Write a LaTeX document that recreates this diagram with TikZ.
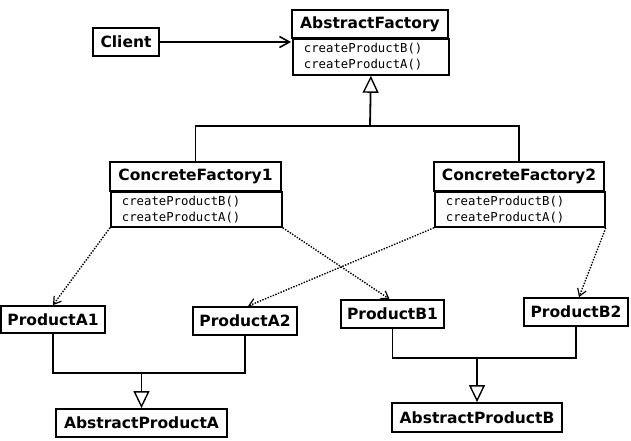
\documentclass[tikz,border=0pt]{standalone}
\usepackage{fontspec}
\setmainfont{DejaVu Sans}
\newfontfamily\monof{DejaVu Sans Mono}
\usetikzlibrary{arrows.meta}
\begin{document}
\begin{tikzpicture}[x=1pt,y=-1pt,
  box/.style={draw, line width=1.8pt, inner sep=0pt, fill=white},
  titlebox/.style={box, font=\bfseries\fontsize{15.5}{18}\selectfont},
  methbox/.style={box, anchor=north west, align=left, inner xsep=11pt,
    font=\monof\fontsize{12.3}{15.6}\selectfont},
  line/.style={line width=1.8pt},
  dep/.style={line width=1.4pt, dash pattern=on 1.4pt off 1.4pt,
    -{Straight Barb[length=7pt,width=9pt,line width=1.2pt]}},
  inherit/.style={line width=1.8pt, -{Triangle[open,length=17pt,width=16pt,fill=white,line width=1.4pt]}},
  assoc/.style={line width=1.8pt, -{Straight Barb[length=10pt,width=11pt,line width=1.6pt]}}
]
\useasboundingbox[fill=white] (0,0) rectangle (631,440);

% classes
\node[titlebox, minimum width=66pt, minimum height=28pt] (client) at (126,42) {Client};

\node[titlebox, minimum width=156pt, minimum height=28pt] (aft) at (370,24) {AbstractFactory};
\node[methbox, minimum width=156pt, minimum height=36pt, text width=134pt] (afm) at (292,38) {createProductB()\\createProductA()};

\node[titlebox, minimum width=171pt, minimum height=29pt] (cf1t) at (195.5,176.5) {ConcreteFactory1};
\node[methbox, minimum width=171pt, minimum height=35pt, text width=149pt] (cf1m) at (110,191) {createProductB()\\createProductA()};

\node[titlebox, minimum width=170pt, minimum height=29pt] (cf2t) at (519,176.5) {ConcreteFactory2};
\node[methbox, minimum width=170pt, minimum height=35pt, text width=148pt] (cf2m) at (434,191) {createProductB()\\createProductA()};

\node[titlebox, minimum width=104pt, minimum height=27pt] (pa1) at (53,319.5) {ProductA1};
\node[titlebox, minimum width=104pt, minimum height=28pt] (pa2) at (245,321) {ProductA2};
\node[titlebox, minimum width=103pt, minimum height=28pt] (pb1) at (392.5,314) {ProductB1};
\node[titlebox, minimum width=104pt, minimum height=28pt] (pb2) at (576,312) {ProductB2};

\node[titlebox, minimum width=171pt, minimum height=28pt] (apa) at (141.5,423) {AbstractProductA};
\node[titlebox, minimum width=170pt, minimum height=29pt] (apb) at (477,417.5) {AbstractProductB};

% association
\draw[assoc] (client.east) -- (client.east -| aft.west);

% inheritance: factories
\coordinate (busf) at (370,126);
\draw[line] (cf1t.north) |- (busf) -| (cf2t.north);
\draw[inherit] (busf) -- (afm.south);

% inheritance: products A
\coordinate (busa) at (141.5,373);
\draw[line] (pa1.south) |- (busa) -| (pa2.south);
\draw[inherit] (busa) -- (apa.north);

% inheritance: products B
\coordinate (busb) at (477,358);
\draw[line] (pb1.south) |- (busb) -| (pb2.south);
\draw[inherit] (busb) -- (apb.north);

% dependencies
\draw[dep] (cf1m.south west) -- (pa1.north);
\draw[dep] (cf1m.south east) -- ([xshift=-3pt]pb1.north);
\draw[dep] (cf2m.south west) -- ([xshift=3pt]pa2.north);
\draw[dep] (cf2m.south east) -- ([xshift=3pt]pb2.north);
\end{tikzpicture}
\end{document}
